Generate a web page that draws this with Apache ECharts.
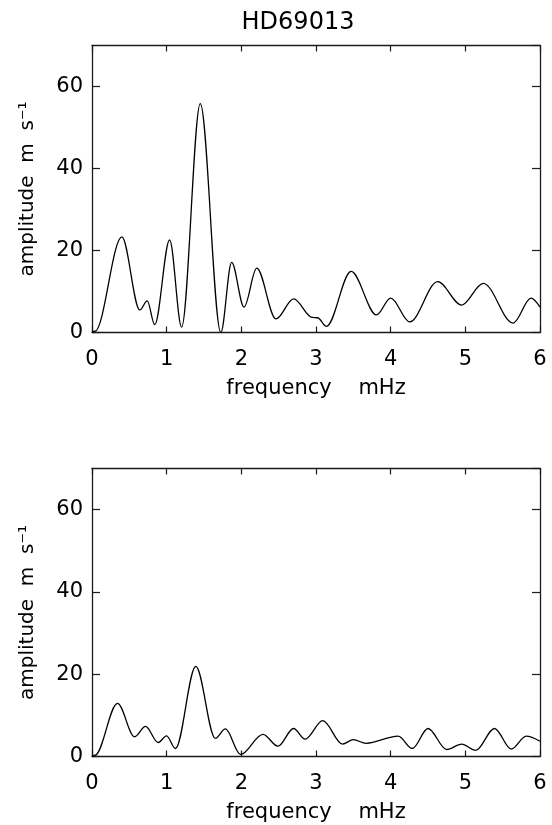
<!DOCTYPE html>
<html>
<head>
<meta charset="utf-8">
<script src="https://cdn.jsdelivr.net/npm/echarts@6/dist/echarts.min.js"></script>
<style>
html,body{margin:0;padding:0;background:#fff;}
#c{width:552px;height:825px;}
</style>
</head>
<body>
<div id="c"></div>
<script>
// ---- data (local maxima / minima of each curve) ----
const titleText = 'HD69013';
const xTicks = [0, 1, 2, 3, 4, 5, 6];
const yTicks = [0, 20, 40, 60];
const xName = 'frequency    mHz';
const yName = 'amplitude  m  s\u207B\u00B9';

// top panel: frequency (mHz) and amplitude (m/s)
const topFreq = [0, 0.04, 0.40, 0.64, 0.74, 0.84, 1.04, 1.20, 1.45, 1.725, 1.87, 2.036, 2.206, 2.464,
  2.70, 2.95, 3.02, 3.14, 3.47, 3.81, 4.0, 4.255, 4.63, 4.95, 5.24, 5.64, 5.88, 6.0];
const topAmp = [0, 0.3, 23.3, 5.5, 7.7, 1.9, 22.6, 1.3, 55.8, 0, 17.1, 6.2, 15.7, 3.3,
  8.2, 3.7, 3.6, 1.5, 14.9, 4.3, 8.4, 2.6, 12.4, 6.7, 12.0, 2.3, 8.4, 6.2];

// bottom panel
const botFreq = [0, 0.04, 0.342, 0.57, 0.717, 0.886, 0.998, 1.118, 1.39, 1.652, 1.786, 1.99, 2.29, 2.49,
  2.70, 2.855, 3.09, 3.355, 3.50, 3.67, 4.10, 4.29, 4.50, 4.75, 4.95, 5.14, 5.39, 5.615, 5.815, 6.0];
const botAmp = [0, 0.3, 12.9, 4.8, 7.3, 3.4, 5.0, 1.95, 21.9, 4.4, 6.7, 0.5, 5.4, 2.5,
  6.8, 4.2, 8.7, 3.0, 4.1, 3.2, 4.95, 1.95, 6.8, 1.7, 3.0, 1.5, 6.8, 1.8, 4.95, 3.7];

const topData = topFreq.map((f, i) => [f, topAmp[i]]);
const botData = botFreq.map((f, i) => [f, botAmp[i]]);

const FONT = 'DejaVu Sans';
const AX = '#1a1a1a';
const grids = [
  {left: 92, right: 12, top: 45.5, height: 287},
  {left: 92, right: 12, top: 468.5, height: 288}
];

function xAxes(gi) {
  return [
    {
      gridIndex: gi, type: 'value', min: 0, max: 6, interval: 1, position: 'bottom',
      name: xName, nameLocation: 'middle', nameGap: 46,
      nameTextStyle: {fontFamily: FONT, fontSize: 21, color: '#000'},
      axisLine: {show: true, onZero: false, lineStyle: {color: AX, width: 1.3}},
      axisTick: {show: true, inside: true, length: 6, lineStyle: {color: AX, width: 1.2}},
      axisLabel: {fontFamily: FONT, fontSize: 21, color: '#000', margin: 17,
        formatter: v => xTicks.includes(v) ? String(v) : ''},
      splitLine: {show: false}
    },
    {
      gridIndex: gi, type: 'value', min: 0, max: 6, interval: 1, position: 'top',
      axisLine: {show: true, onZero: false, lineStyle: {color: AX, width: 1.3}},
      axisTick: {show: true, inside: true, length: 6, lineStyle: {color: AX, width: 1.2}},
      axisLabel: {show: false}, splitLine: {show: false}
    }
  ];
}
function yAxes(gi) {
  return [
    {
      gridIndex: gi, type: 'value', min: 0, max: 70, interval: 20, position: 'left',
      name: yName, nameLocation: 'middle', nameGap: 54,
      nameTextStyle: {fontFamily: FONT, fontSize: 20, color: '#000'},
      axisLine: {show: true, onZero: false, lineStyle: {color: AX, width: 1.3}},
      axisTick: {show: true, inside: true, length: 8, lineStyle: {color: AX, width: 1.2}},
      axisLabel: {fontFamily: FONT, fontSize: 21, color: '#000', margin: 9, showMaxLabel: false,
        formatter: v => yTicks.includes(v) ? String(v) : ''},
      splitLine: {show: false}
    },
    {
      gridIndex: gi, type: 'value', min: 0, max: 70, interval: 20, position: 'right',
      axisLine: {show: true, onZero: false, lineStyle: {color: AX, width: 1.3}},
      axisTick: {show: true, inside: true, length: 8, lineStyle: {color: AX, width: 1.2}},
      axisLabel: {show: false}, splitLine: {show: false}
    }
  ];
}

const chart = echarts.init(document.getElementById('c'), null, {renderer: 'canvas'});
chart.setOption({
  backgroundColor: '#fff',
  animation: false,
  graphic: [{
    type: 'text', x: 298, y: 23,
    style: {text: titleText, fontFamily: FONT, fontSize: 24, fill: '#000',
      textAlign: 'center', textVerticalAlign: 'middle'}
  }],
  grid: grids,
  xAxis: [...xAxes(0), ...xAxes(1)],
  yAxis: [...yAxes(0), ...yAxes(1)],
  series: [
    {type: 'line', xAxisIndex: 0, yAxisIndex: 0, data: topData, smooth: 0.34, smoothMonotone: 'x',
      showSymbol: false, lineStyle: {color: '#000', width: 1.3}},
    {type: 'line', xAxisIndex: 2, yAxisIndex: 2, data: botData, smooth: 0.34, smoothMonotone: 'x',
      showSymbol: false, lineStyle: {color: '#000', width: 1.3}}
  ]
});
</script>
</body>
</html>
